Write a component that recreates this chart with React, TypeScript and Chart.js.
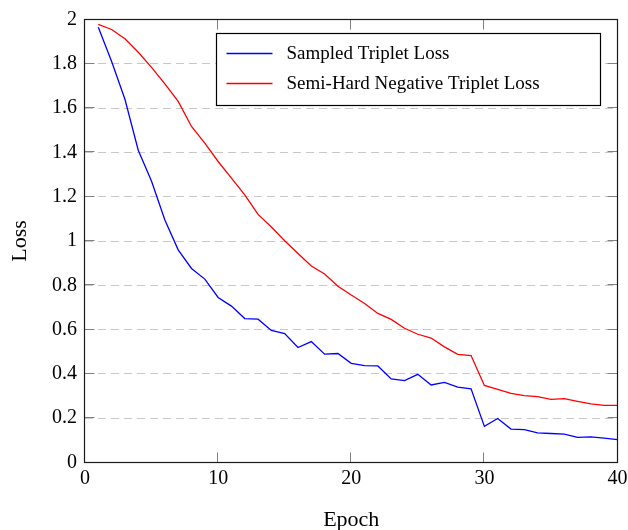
import { useEffect, useRef } from 'react';
import { Chart, registerables } from 'chart.js';

Chart.register(...registerables);

const epochs = [1, 2, 3, 4, 5, 6, 7, 8, 9, 10, 11, 12, 13, 14, 15, 16, 17, 18, 19, 20, 21, 22, 23, 24, 25, 26, 27, 28, 29, 30, 31, 32, 33, 34, 35, 36, 37, 38, 39, 40];

const sampledLoss = [
  1.965, 1.81, 1.64, 1.41, 1.27, 1.095, 0.96, 0.876, 0.828, 0.745,
  0.706, 0.65, 0.647, 0.596, 0.582, 0.519, 0.546, 0.489, 0.492, 0.448,
  0.437, 0.436, 0.377, 0.37, 0.398, 0.35, 0.362, 0.34, 0.333, 0.163,
  0.199, 0.151, 0.148, 0.134, 0.131, 0.128, 0.113, 0.116, 0.11, 0.103,
];

const semiHardLoss = [
  1.978, 1.955, 1.913, 1.852, 1.784, 1.709, 1.63, 1.517, 1.442, 1.359,
  1.284, 1.208, 1.12, 1.063, 1.001, 0.944, 0.887, 0.851, 0.796, 0.756,
  0.718, 0.673, 0.646, 0.606, 0.579, 0.562, 0.522, 0.488, 0.483, 0.348,
  0.33, 0.312, 0.302, 0.297, 0.285, 0.288, 0.276, 0.265, 0.258, 0.258,
];

const seriesNames = ['Sampled Triplet Loss', 'Semi-Hard Negative Triplet Loss'];
const seriesColors = ['#0000ff', '#ff0000'];

const xTickValues = [0, 10, 20, 30, 40];
const xTickLabels = ['0', '10', '20', '30', '40'];
const yTickValues = [0, 0.2, 0.4, 0.6, 0.8, 1, 1.2, 1.4, 1.6, 1.8, 2];
const yTickLabels = ['0', '0.2', '0.4', '0.6', '0.8', '1', '1.2', '1.4', '1.6', '1.8', '2'];

const xTitle = 'Epoch';
const yTitle = 'Loss';

const FONT = "'Liberation Serif', 'Times New Roman', serif";

const framePlugin = {
  id: 'pgfFrame',
  afterDraw(chart: any) {
    const { ctx, chartArea } = chart;
    const xs = chart.scales.x;
    const ys = chart.scales.y;
    const L = Math.round(chartArea.left) - 0.5;
    const R = Math.round(chartArea.right) - 0.5;
    const T = Math.round(chartArea.top) - 0.5;
    const B = Math.round(chartArea.bottom) - 0.5;
    const tl = 10;
    ctx.save();
    ctx.strokeStyle = '#808080';
    ctx.lineWidth = 1;
    ctx.setLineDash([]);
    ctx.beginPath();
    for (const t of xs.ticks) {
      const px = Math.round(xs.getPixelForValue(t.value)) - 0.5;
      ctx.moveTo(px, B);
      ctx.lineTo(px, B - tl);
      ctx.moveTo(px, T);
      ctx.lineTo(px, T + tl);
    }
    for (const t of ys.ticks) {
      const py = Math.round(ys.getPixelForValue(t.value)) - 0.5;
      ctx.moveTo(L, py);
      ctx.lineTo(L + tl, py);
      ctx.moveTo(R, py);
      ctx.lineTo(R - tl, py);
    }
    ctx.stroke();
    ctx.strokeStyle = '#1a1a1a';
    ctx.lineWidth = 1.2;
    ctx.strokeRect(L, T, R - L, B - T);

    // legend
    const boxL = L + 132;
    const boxT = T + 14;
    const boxR = R - 17;
    const boxB = boxT + 72;
    ctx.fillStyle = '#ffffff';
    ctx.fillRect(boxL, boxT, boxR - boxL, boxB - boxT);
    ctx.strokeStyle = '#000000';
    ctx.lineWidth = 1.2;
    ctx.strokeRect(boxL, boxT, boxR - boxL, boxB - boxT);
    ctx.font = `19px ${FONT}`;
    ctx.textBaseline = 'middle';
    ctx.textAlign = 'left';
    chart.data.datasets.forEach((ds: any, i: number) => {
      const y = boxT + 20 + i * 30;
      ctx.strokeStyle = ds.borderColor;
      ctx.lineWidth = 1.3;
      ctx.beginPath();
      ctx.moveTo(boxL + 10, y);
      ctx.lineTo(boxL + 56, y);
      ctx.stroke();
      ctx.fillStyle = '#000000';
      ctx.fillText(ds.label, boxL + 70, y + 1);
    });
    ctx.restore();
  },
};

export default function App() {
  const ref = useRef<HTMLCanvasElement | null>(null);

  useEffect(() => {
    if (!ref.current) return;
    const series = [sampledLoss, semiHardLoss];
    const chart = new Chart(ref.current, {
      type: 'line',
      data: {
        datasets: series.map((vals, i) => ({
          label: seriesNames[i],
          data: epochs.map((e, j) => ({ x: e, y: vals[j] })),
          borderColor: seriesColors[i],
          backgroundColor: seriesColors[i],
          borderWidth: 1.3,
          pointRadius: 0,
          tension: 0,
          fill: false,
        })),
      },
      options: {
        responsive: false,
        animation: false,
        layout: { padding: { top: 19.5, right: 10.5, left: 0, bottom: 0 } },
        plugins: {
          legend: { display: false },
          tooltip: { enabled: false },
        },
        scales: {
          x: {
            type: 'linear',
            min: 0,
            max: 40,
            afterBuildTicks: (s: any) => {
              s.ticks = xTickValues.map((v) => ({ value: v }));
            },
            afterFit: (s: any) => {
              s.height = 67.5;
              s.paddingLeft = 0;
              s.paddingRight = 0;
            },
            ticks: {
              callback: (_v: any, i: number) => xTickLabels[i],
              font: { family: FONT, size: 20 },
              color: '#000000',
              padding: 4,
              maxRotation: 0,
            },
            grid: { display: false, drawTicks: false },
            border: { display: false },
            title: {
              display: true,
              text: xTitle,
              font: { family: FONT, size: 22, lineHeight: 0.9 },
              color: '#000000',
              padding: 0,
            },
          },
          y: {
            type: 'linear',
            min: 0,
            max: 2,
            afterBuildTicks: (s: any) => {
              s.ticks = yTickValues.map((v) => ({ value: v }));
            },
            afterFit: (s: any) => {
              s.width = 85;
              s.paddingTop = 0;
              s.paddingBottom = 0;
            },
            ticks: {
              callback: (_v: any, i: number) => yTickLabels[i],
              font: { family: FONT, size: 20 },
              color: '#000000',
              padding: 8,
            },
            grid: {
              drawTicks: false,
              color: (c: any) =>
                c.tick && (c.tick.value === 0 || c.tick.value === 2) ? 'rgba(0,0,0,0)' : '#c8c8c8',
              lineWidth: 1,
            },
            border: { display: false, dash: [8, 5] },
            title: {
              display: true,
              text: yTitle,
              font: { family: FONT, size: 22 },
              color: '#000000',
              padding: { top: 7, bottom: 0 },
            },
          },
        },
      },
      plugins: [framePlugin],
    });
    return () => chart.destroy();
  }, []);

  return (
    <div style={{ position: 'absolute', left: 0, top: 0, width: 628, height: 530, background: '#fff' }}>
      <canvas ref={ref} width={628} height={530} style={{ display: 'block' }} />
    </div>
  );
}
